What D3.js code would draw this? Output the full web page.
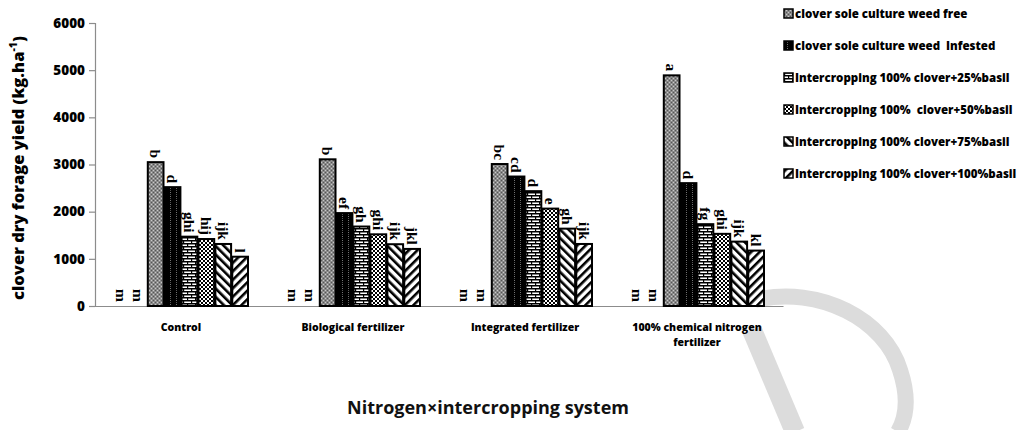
<!DOCTYPE html>
<html>
<head>
<meta charset="utf-8">
<script src="https://cdn.jsdelivr.net/npm/d3@7"></script>
<style>
  html, body { margin: 0; padding: 0; background: #fff; }
  svg { display: block; }
</style>
</head>
<body>
<svg id="chart" width="1028" height="430"></svg>
<script>
// ---------- data ----------
const categories = ["Control", "Biological fertilizer", "Integrated fertilizer", "100% chemical nitrogen fertilizer"];
const seriesNames = [
  "clover sole culture weed free",
  "clover sole culture weed  Infested",
  "Intercropping 100% clover+25%basil",
  "Intercropping 100%  clover+50%basil",
  "Intercropping 100% clover+75%basil",
  "Intercropping 100% clover+100%basil"
];
// two unlabelled zero slots (letter "m") precede the six legend series in each group
const zeroSlotA = [0, 0, 0, 0];
const zeroSlotB = [0, 0, 0, 0];
const weedFree    = [3050, 3110, 3010, 4890];
const weedInfest  = [2520, 1970, 2745, 2605];
const basil25     = [1470, 1685, 2435, 1735];
const basil50     = [1420, 1520, 2065, 1530];
const basil75     = [1315, 1310, 1640, 1365];
const basil100    = [1045, 1210, 1315, 1175];
const zeroLetters = ["m", "m", "m", "m"];
const lettersFree   = ["b", "b", "bc", "a"];
const lettersInf    = ["d", "ef", "cd", "d"];
const letters25     = ["ghi", "gh", "d", "fg"];
const letters50     = ["hij", "ghi", "e", "ghi"];
const letters75     = ["ijk", "ijk", "gh", "ijk"];
const letters100    = ["l", "jkl", "ijk", "kl"];
const yTicks = [0, 1000, 2000, 3000, 4000, 5000, 6000];

const slotValues  = [zeroSlotA, zeroSlotB, weedFree, weedInfest, basil25, basil50, basil75, basil100];
const slotLetters = [zeroLetters, zeroLetters, lettersFree, lettersInf, letters25, letters50, letters75, letters100];
const slotPattern = [null, null, "p0", "p1", "p2", "p3", "p4", "p5"];

// ---------- setup ----------
const svg = d3.select("#chart");
const plotL = 95, plotR = 783, plotT = 23, plotB = 306;
const SANS = "'Open Sans', Lato, sans-serif";

const defs = svg.append("defs");
function pat(id, w, h, build) {
  const p = defs.append("pattern").attr("id", id).attr("patternUnits", "userSpaceOnUse")
    .attr("width", w).attr("height", h);
  build(p);
}
pat("p0", 4, 4, p => {
  p.append("rect").attr("width", 4).attr("height", 4).attr("fill", "#8a8a8a");
  p.append("rect").attr("x", 0).attr("y", 0).attr("width", 1).attr("height", 1).attr("fill", "#c8c8c8");
  p.append("rect").attr("x", 2).attr("y", 2).attr("width", 1).attr("height", 1).attr("fill", "#c8c8c8");
  p.append("rect").attr("x", 2).attr("y", 0).attr("width", 1).attr("height", 1).attr("fill", "#555");
  p.append("rect").attr("x", 0).attr("y", 2).attr("width", 1).attr("height", 1).attr("fill", "#555");
});
pat("p1", 6, 4, p => {
  p.append("rect").attr("width", 6).attr("height", 4).attr("fill", "#000");
  p.append("rect").attr("x", 3).attr("y", 0).attr("width", 1).attr("height", 1).attr("fill", "#777");
  p.append("rect").attr("x", 3).attr("y", 2).attr("width", 1).attr("height", 1).attr("fill", "#555");
});
pat("p2", 8, 6, p => {
  p.append("rect").attr("width", 8).attr("height", 6).attr("fill", "#fff");
  p.append("rect").attr("x", 0).attr("y", 0).attr("width", 8).attr("height", 1.5).attr("fill", "#000");
  p.append("rect").attr("x", 0).attr("y", 3).attr("width", 8).attr("height", 1.5).attr("fill", "#000");
  p.append("rect").attr("x", 0).attr("y", 0).attr("width", 1.2).attr("height", 3).attr("fill", "#000");
  p.append("rect").attr("x", 4).attr("y", 3).attr("width", 1.2).attr("height", 3).attr("fill", "#000");
});
pat("p3", 4, 4, p => {
  p.append("rect").attr("width", 4).attr("height", 4).attr("fill", "#fff");
  p.append("rect").attr("x", 0).attr("y", 0).attr("width", 2).attr("height", 2).attr("fill", "#000");
  p.append("rect").attr("x", 2).attr("y", 2).attr("width", 2).attr("height", 2).attr("fill", "#000");
});
pat("p4", 6, 6, p => {
  p.attr("patternTransform", "rotate(-45)");
  p.append("rect").attr("width", 6).attr("height", 6).attr("fill", "#fff");
  p.append("rect").attr("x", 0).attr("y", 0).attr("width", 2.6).attr("height", 6).attr("fill", "#000");
});
pat("p5", 6, 6, p => {
  p.attr("patternTransform", "rotate(45)");
  p.append("rect").attr("width", 6).attr("height", 6).attr("fill", "#fff");
  p.append("rect").attr("x", 0).attr("y", 0).attr("width", 2.6).attr("height", 6).attr("fill", "#000");
});

// watermark (light grey shape)
svg.append("path")
  .attr("d", "M755,300 C820,285 885,320 900,370 C910,400 905,420 898,432")
  .attr("fill", "none").attr("stroke", "#dcdcdc").attr("stroke-width", 16);
svg.append("path")
  .attr("d", "M752,330 L795,432")
  .attr("fill", "none").attr("stroke", "#dcdcdc").attr("stroke-width", 20);

const x0 = d3.scaleBand().domain(categories).range([plotL, plotR]).paddingInner(0).paddingOuter(0);
const x1 = d3.scaleBand().domain(d3.range(8)).range([19, x0.bandwidth() - 19]).paddingInner(0.07).paddingOuter(0);
const y = d3.scaleLinear().domain([0, 6000]).range([plotB, plotT]);

// y axis
const yAxis = svg.append("g").attr("transform", `translate(${plotL},0)`)
  .call(d3.axisLeft(y).tickValues(yTicks).tickSize(6).tickPadding(4).tickFormat(d3.format("d")));
yAxis.select(".domain").attr("stroke", "#8c8c8c").attr("stroke-width", 1.2);
yAxis.selectAll(".tick line").attr("stroke", "#8c8c8c").attr("stroke-width", 1.2);
yAxis.selectAll(".tick text").attr("font-family", SANS)
  .attr("font-weight", 800).attr("font-size", 13.5).attr("fill", "#000");

// x axis
const xAxis = svg.append("g").attr("transform", `translate(0,${plotB})`)
  .call(d3.axisBottom(x0).tickSize(0).tickFormat(""));
xAxis.select(".domain").attr("stroke", "#8c8c8c").attr("stroke-width", 1.2);

// category labels
const labelLines = {
  "Control": ["Control"],
  "Biological fertilizer": ["Biological fertilizer"],
  "Integrated fertilizer": ["Integrated fertilizer"],
  "100% chemical nitrogen fertilizer": ["100% chemical nitrogen", "fertilizer"]
};
categories.forEach(c => {
  const t = svg.append("text")
    .attr("x", x0(c) + x0.bandwidth() / 2)
    .attr("y", 331)
    .attr("text-anchor", "middle")
    .attr("font-family", SANS)
    .attr("font-weight", 800).attr("font-size", 10.5).attr("fill", "#000");
  labelLines[c].forEach((ln, i) => {
    t.append("tspan").attr("x", x0(c) + x0.bandwidth() / 2).attr("dy", i === 0 ? 0 : 15).text(ln);
  });
});

// bars
const groups = svg.append("g").selectAll("g").data(categories).join("g")
  .attr("transform", c => `translate(${x0(c)},0)`);

groups.each(function (c, ci) {
  const g = d3.select(this);
  slotValues.forEach((vals, si) => {
    const v = vals[ci];
    const bx = x1(si), bw = x1.bandwidth();
    if (v > 0) {
      g.append("rect")
        .attr("x", bx).attr("y", y(v))
        .attr("width", bw).attr("height", y(0) - y(v))
        .attr("fill", `url(#${slotPattern[si]})`)
        .attr("stroke", "#000").attr("stroke-width", 2);
    }
    const ty = (v > 0 ? y(v) : y(0)) - 4;
    g.append("text")
      .attr("transform", `translate(${bx + bw / 2},${ty}) rotate(90)`)
      .attr("text-anchor", "end")
      .attr("dy", "0.35em")
      .attr("font-family", "'Liberation Serif', 'DejaVu Serif', serif")
      .attr("font-weight", "bold").attr("font-size", 15.5).attr("fill", "#000")
      .text(slotLetters[si][ci]);
  });
});

// y title
svg.append("text")
  .attr("transform", "translate(24,168) rotate(-90)")
  .attr("text-anchor", "middle")
  .attr("font-family", SANS)
  .attr("font-weight", 800).attr("font-size", 16.5).attr("fill", "#000")
  .call(t => {
    t.append("tspan").text("clover dry forage yield (kg.ha");
    t.append("tspan").attr("baseline-shift", "super").attr("font-size", 10.5).text("-1");
    t.append("tspan").text(")");
  });

// x title
svg.append("text")
  .attr("x", 488).attr("y", 414)
  .attr("text-anchor", "middle")
  .attr("font-family", SANS)
  .attr("font-weight", 700).attr("font-size", 18).attr("fill", "#111")
  .text("Nitrogen\u00d7intercropping system");

// legend
const legend = svg.append("g").attr("transform", "translate(784,0)");
seriesNames.forEach((name, i) => {
  const ly = 14 + i * 32;
  legend.append("rect")
    .attr("x", 0).attr("y", ly - 5).attr("width", 9).attr("height", 9)
    .attr("fill", `url(#p${i})`).attr("stroke", "#000").attr("stroke-width", 1.5);
  legend.append("text")
    .attr("x", 11).attr("y", ly).attr("dy", "0.35em")
    .attr("font-family", SANS)
    .attr("font-weight", 800).attr("font-size", 11.5).attr("fill", "#000")
    .attr("xml:space", "preserve")
    .style("white-space", "pre")
    .text(name);
});
</script>
</body>
</html>
